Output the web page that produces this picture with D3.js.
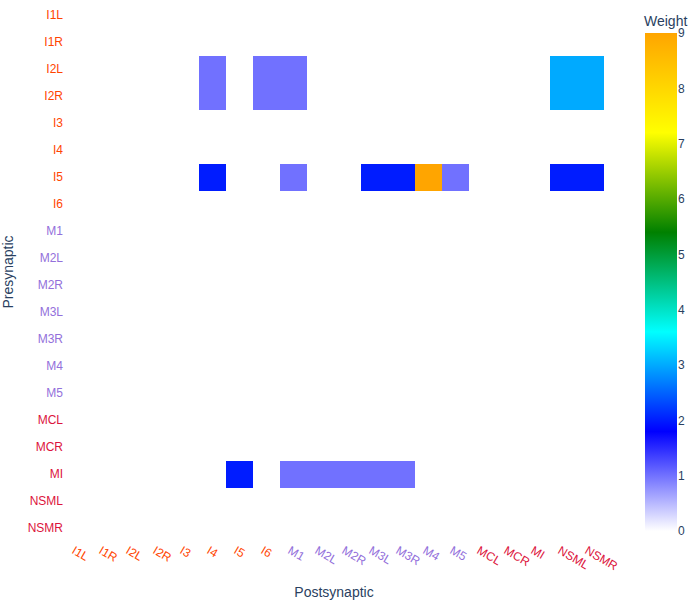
<!DOCTYPE html>
<html>
<head>
<meta charset="utf-8">
<script src="https://cdn.jsdelivr.net/npm/d3@7.9.0/dist/d3.min.js"></script>
<style>
  body { margin: 0; background: #fff; }
  svg { font-family: "Liberation Sans", Arial, sans-serif; }
</style>
</head>
<body>
<svg id="chart" width="700" height="600"></svg>
<script>
const neurons = ['I1L', 'I1R', 'I2L', 'I2R', 'I3', 'I4', 'I5', 'I6', 'M1', 'M2L', 'M2R',
  'M3L', 'M3R', 'M4', 'M5', 'MCL', 'MCR', 'MI', 'NSML', 'NSMR'];

// non-zero connections: [presynaptic, postsynaptic, weight]
const links = [
  ['I2L', 'I4', 1], ['I2L', 'I6', 1], ['I2L', 'M1', 1], ['I2L', 'NSML', 3], ['I2L', 'NSMR', 3],
  ['I2R', 'I4', 1], ['I2R', 'I6', 1], ['I2R', 'M1', 1], ['I2R', 'NSML', 3], ['I2R', 'NSMR', 3],
  ['I5', 'I4', 2], ['I5', 'M1', 1], ['I5', 'M3L', 2], ['I5', 'M3R', 2], ['I5', 'M4', 9],
  ['I5', 'M5', 1], ['I5', 'NSML', 2], ['I5', 'NSMR', 2],
  ['MI', 'I5', 2], ['MI', 'M1', 1], ['MI', 'M2L', 1], ['MI', 'M2R', 1], ['MI', 'M3L', 1], ['MI', 'M3R', 1]
];

const colorStops = ['#ffffff', '#0000ff', '#00ffff', '#008000', '#ffff00', '#ffa500'];
const weightTicks = [0, 1, 2, 3, 4, 5, 6, 7, 8, 9];

function labelColor(n) {
  if (/^I/.test(n)) return '#ff4500';
  if (/^M[1-5]/.test(n)) return '#9370db';
  return '#dc143c';
}

const svg = d3.select('#chart');
const plot = { left: 64, top: 2, width: 540, height: 540 };

const x = d3.scaleBand().domain(neurons).range([plot.left, plot.left + plot.width]);
const y = d3.scaleBand().domain(neurons).range([plot.top, plot.top + plot.height]);

const zmax = 9;
const color = d3.scaleLinear()
  .domain(colorStops.map((c, i) => i * zmax / (colorStops.length - 1)))
  .range(colorStops)
  .interpolate(d3.interpolateRgb);

const lookup = new Map(links.map(d => [d[0] + '|' + d[1], d[2]]));
const cells = [];
neurons.forEach(pre => neurons.forEach(post => {
  cells.push({ pre, post, w: lookup.get(pre + '|' + post) || 0 });
}));

svg.append('g').selectAll('rect')
  .data(cells)
  .join('rect')
  .attr('x', d => x(d.post))
  .attr('y', d => y(d.pre))
  .attr('width', x.bandwidth())
  .attr('height', y.bandwidth())
  .attr('fill', d => color(d.w))
  .attr('shape-rendering', 'crispEdges');

// y tick labels
svg.append('g').selectAll('text')
  .data(neurons)
  .join('text')
  .attr('x', plot.left - 1)
  .attr('y', d => y(d) + y.bandwidth() / 2)
  .attr('dy', '0.3em')
  .attr('text-anchor', 'end')
  .attr('font-size', 12)
  .attr('fill', labelColor)
  .text(d => d);

// x tick labels, rotated 30 degrees
svg.append('g').selectAll('text')
  .data(neurons)
  .join('text')
  .attr('transform', d => `translate(${x(d) + x.bandwidth() / 2 - 2},${plot.top + plot.height + 3}) rotate(30)`)
  .attr('dy', '0.75em')
  .attr('text-anchor', 'start')
  .attr('font-size', 12)
  .attr('fill', labelColor)
  .text(d => d);

// axis titles
svg.append('text')
  .attr('x', plot.left + plot.width / 2)
  .attr('y', 597)
  .attr('text-anchor', 'middle')
  .attr('font-size', 14)
  .attr('fill', '#2a3f5f')
  .text('Postsynaptic');

svg.append('text')
  .attr('transform', `translate(13,${plot.top + plot.height / 2}) rotate(-90)`)
  .attr('text-anchor', 'middle')
  .attr('font-size', 14)
  .attr('fill', '#2a3f5f')
  .text('Presynaptic');

// colorbar
const cb = { x: 645, top: 33, bottom: 531, width: 32 };
const cbScale = d3.scaleLinear().domain([0, zmax]).range([cb.bottom, cb.top]);

const grad = svg.append('defs').append('linearGradient')
  .attr('id', 'cbgrad')
  .attr('x1', 0).attr('y1', 1).attr('x2', 0).attr('y2', 0);
grad.selectAll('stop')
  .data(colorStops)
  .join('stop')
  .attr('offset', (d, i) => i / (colorStops.length - 1))
  .attr('stop-color', d => d);

svg.append('rect')
  .attr('x', cb.x)
  .attr('y', cb.top)
  .attr('width', cb.width)
  .attr('height', cb.bottom - cb.top)
  .attr('fill', 'url(#cbgrad)');

const cbAxis = svg.append('g')
  .attr('transform', `translate(${cb.x + cb.width},0)`)
  .call(d3.axisRight(cbScale).tickValues(weightTicks).tickSize(0).tickPadding(1));
cbAxis.select('.domain').remove();
cbAxis.selectAll('text')
  .attr('font-size', 12)
  .attr('font-family', '"Liberation Sans", Arial, sans-serif')
  .attr('fill', '#2a3f5f');

svg.append('text')
  .attr('x', 644)
  .attr('y', 26)
  .attr('font-size', 14)
  .attr('fill', '#2a3f5f')
  .text('Weight');
</script>
</body>
</html>
